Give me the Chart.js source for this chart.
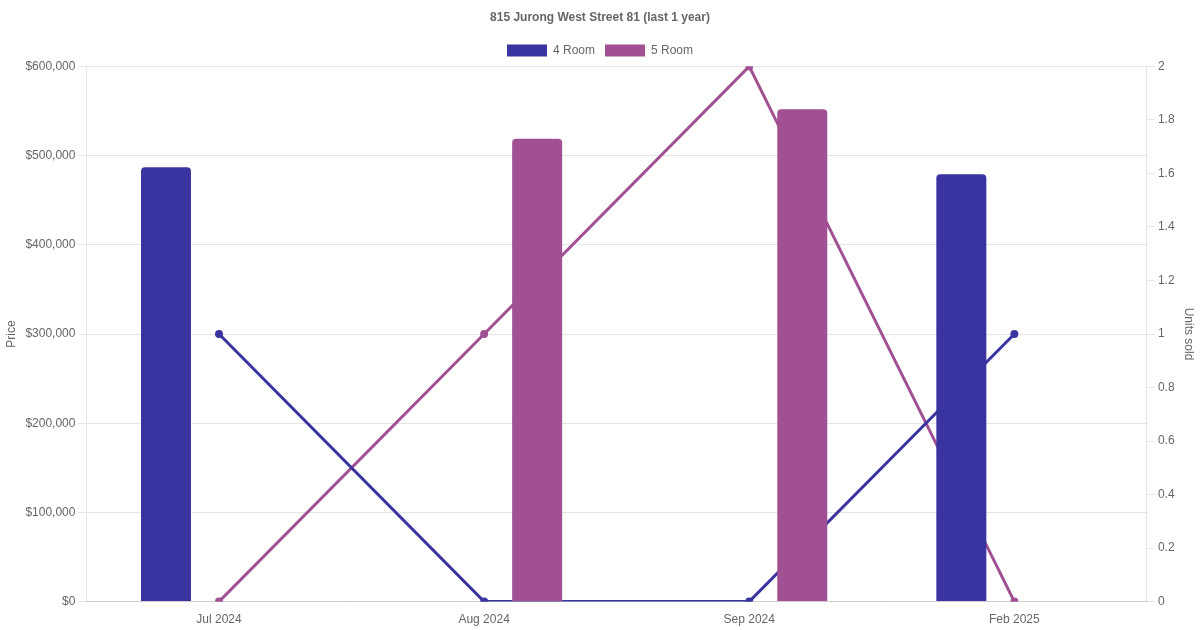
<!doctype html>
<html>
  <head>
    <meta charset="UTF-8">
    <title>815 Jurong West Street 81</title>
    <script src="https://cdn.jsdelivr.net/npm/chart.js@4/dist/chart.umd.min.js"></script>
    <style>
      body {
        margin: 0;
        background: #fff;
      }
      #wrap {
        width: 1200px;
        height: 630px;
      }
    </style>
  </head>
  <body>
    <div id="wrap">
      <canvas id="chart"></canvas>
    </div>
    <script>
      var months = ['Jul 2024', 'Aug 2024', 'Sep 2024', 'Feb 2025']
      var price4 = [487000, null, null, 479000]
      var price5 = [null, 519000, 552000, null]
      var units4 = [1, 0, 0, 1]
      var units5 = [0, 1, 2, 0]

      var blue = 'rgb(58, 52, 160)'
      var purple = 'rgb(160, 80, 147)'

      var ctx = document.getElementById('chart').getContext('2d')
      var myChart = new Chart(ctx, {
        type: 'bar',
        data: {
          labels: months,
          datasets: [
            {
              label: '4 Room',
              data: price4,
              backgroundColor: blue,
              borderRadius: 4,
              borderSkipped: 'bottom',
              maxBarThickness: 50,
              yAxisID: 'y'
            },
            {
              label: '5 Room',
              data: price5,
              backgroundColor: purple,
              borderRadius: 4,
              borderSkipped: 'bottom',
              maxBarThickness: 50,
              yAxisID: 'y'
            },
            {
              type: 'line',
              label: '4 Room units',
              data: units4,
              borderColor: blue,
              backgroundColor: blue,
              borderWidth: 3,
              pointRadius: 2.5,
              fill: false,
              tension: 0,
              yAxisID: 'y1'
            },
            {
              type: 'line',
              label: '5 Room units',
              data: units5,
              borderColor: purple,
              backgroundColor: purple,
              borderWidth: 3,
              pointRadius: 2.5,
              fill: false,
              tension: 0,
              yAxisID: 'y1'
            }
          ]
        },
        options: {
          responsive: true,
          maintainAspectRatio: false,
          animation: false,
          plugins: {
            title: {
              display: true,
              text: '815 Jurong West Street 81 (last 1 year)',
              color: '#666',
              font: { size: 12, weight: 'bold' }
            },
            legend: {
              labels: {
                color: '#666',
                filter: function(item) { return item.datasetIndex < 2 }
              }
            }
          },
          scales: {
            x: {
              grid: { display: false },
              ticks: { color: '#666' }
            },
            y: {
              position: 'left',
              min: 0,
              max: 600000,
              ticks: {
                stepSize: 100000,
                color: '#666',
                callback: function(v) { return '$' + v.toLocaleString('en-US') }
              },
              title: { display: true, text: 'Price', color: '#666' }
            },
            y1: {
              position: 'right',
              min: 0,
              max: 2,
              ticks: {
                stepSize: 0.2,
                color: '#666',
                callback: function(v) { return String(Math.round(v * 10) / 10) }
              },
              grid: { drawOnChartArea: false },
              title: { display: true, text: 'Units sold', color: '#666' }
            }
          }
        }
      })
    </script>
  </body>
</html>
